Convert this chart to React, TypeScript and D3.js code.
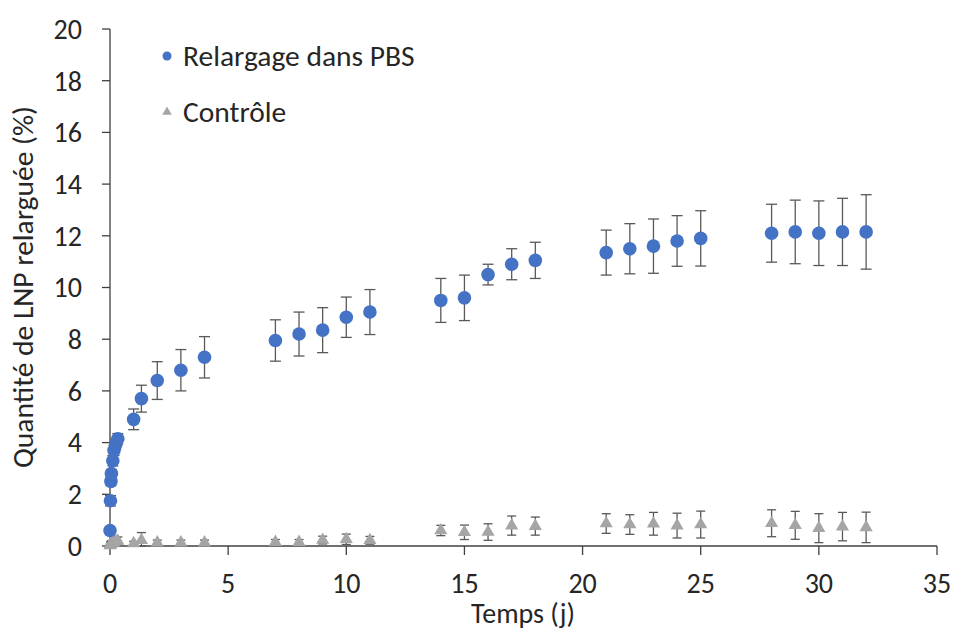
import * as d3 from 'd3';

// temps (j)
const pbsTimes = [0, 0.02, 0.04, 0.06, 0.12, 0.17, 0.25, 0.33, 1, 1.33, 2, 3, 4, 7, 8, 9, 10, 11, 14, 15, 16, 17, 18, 21, 22, 23, 24, 25, 28, 29, 30, 31, 32];
const pbsValues = [0.6, 1.75, 2.5, 2.8, 3.3, 3.7, 3.95, 4.15, 4.9, 5.7, 6.4, 6.8, 7.3, 7.95, 8.2, 8.35, 8.85, 9.05, 9.5, 9.6, 10.5, 10.9, 11.05, 11.35, 11.5, 11.6, 11.8, 11.9, 12.1, 12.15, 12.1, 12.15, 12.15];
const pbsErrors = [0.1, 0.2, 0.15, 0.15, 0.2, 0.2, 0.2, 0.2, 0.4, 0.52, 0.73, 0.8, 0.8, 0.8, 0.85, 0.87, 0.78, 0.87, 0.85, 0.88, 0.4, 0.6, 0.7, 0.87, 0.97, 1.05, 0.98, 1.07, 1.12, 1.23, 1.25, 1.3, 1.44];

const ctrlTimes = [0, 0.02, 0.04, 0.06, 0.12, 0.17, 0.25, 0.33, 1, 1.33, 2, 3, 4, 7, 8, 9, 10, 11, 14, 15, 16, 17, 18, 21, 22, 23, 24, 25, 28, 29, 30, 31, 32];
const ctrlValues = [0.02, 0.05, 0.08, 0.1, 0.12, 0.15, 0.18, 0.2, 0.1, 0.22, 0.13, 0.13, 0.13, 0.15, 0.15, 0.23, 0.26, 0.22, 0.6, 0.53, 0.54, 0.79, 0.77, 0.87, 0.83, 0.86, 0.79, 0.83, 0.88, 0.8, 0.69, 0.75, 0.72];
const ctrlErrors = [0.05, 0.1, 0.1, 0.1, 0.1, 0.12, 0.15, 0.15, 0.08, 0.3, 0.1, 0.1, 0.1, 0.1, 0.1, 0.15, 0.2, 0.15, 0.2, 0.28, 0.32, 0.37, 0.35, 0.38, 0.38, 0.44, 0.48, 0.52, 0.52, 0.54, 0.56, 0.55, 0.59];

const xTicks = [0, 5, 10, 15, 20, 25, 30, 35];
const yTicks = [0, 2, 4, 6, 8, 10, 12, 14, 16, 18, 20];

const W = 956;
const H = 633;
const font = "Calibri, Carlito, Lato, sans-serif";
const axisColor = '#404040';
const barColor = '#595959';
const textColor = '#262626';
const blue = '#4472C4';
const gray = '#A5A5A5';
const fs = 28;
const fsLegend = 29.5;

export default function App() {
  const x = d3.scaleLinear().domain([0, 35]).range([110, 937]);
  const y = d3.scaleLinear().domain([0, 20]).range([546, 29]);
  const tri = d3.symbol().type(d3.symbolTriangle).size(75)();
  const triLegend = d3.symbol().type(d3.symbolTriangle).size(40)();

  const errBar = (t: number, v: number, e: number, cap: number, key: string) => (
    <g key={key} stroke={barColor} strokeWidth={1.3}>
      <line x1={x(t)} x2={x(t)} y1={y(v + e)} y2={y(Math.max(0, v - e))} />
      <line x1={x(t) - cap} x2={x(t) + cap} y1={y(v + e)} y2={y(v + e)} />
      <line x1={x(t) - cap} x2={x(t) + cap} y1={y(Math.max(0, v - e))} y2={y(Math.max(0, v - e))} />
    </g>
  );

  return (
    <div style={{ position: 'fixed', left: 0, top: 0 }}>
      <svg width={W} height={H} style={{ display: 'block', background: '#fff' }} fontFamily={font}>
        {/* axes */}
        <line x1={x(0)} x2={x(0)} y1={y(0)} y2={y(20)} stroke={axisColor} strokeWidth={1.3} />
        <line x1={x(0)} x2={x(35)} y1={y(0)} y2={y(0)} stroke={axisColor} strokeWidth={1.3} />
        {yTicks.map(t => (
          <g key={'y' + t}>
            <line x1={x(0) - 8} x2={x(0)} y1={y(t)} y2={y(t)} stroke={axisColor} strokeWidth={1.3} />
            <text x={82} y={y(t)} dy="0.35em" textAnchor="end" fontSize={fs} fill={textColor}>{t}</text>
          </g>
        ))}
        {xTicks.map(t => (
          <g key={'x' + t}>
            <line x1={x(t)} x2={x(t)} y1={y(0)} y2={y(0) + 9} stroke={axisColor} strokeWidth={1.3} />
            <text x={x(t)} y={583} dy="0.35em" textAnchor="middle" fontSize={fs} fill={textColor}>{t}</text>
          </g>
        ))}
        <text x={523} y={613} dy="0.35em" textAnchor="middle" fontSize={fs} fill={textColor}>Temps (j)</text>
        <text transform={`translate(23,287) rotate(-90)`} dy="0.35em" textAnchor="middle" fontSize={fsLegend} fill={textColor}>Quantité de LNP relarguée (%)</text>

        {/* contrôle */}
        {ctrlTimes.map((t, i) => errBar(t, ctrlValues[i], ctrlErrors[i], 4.5, 'ce' + i))}
        {ctrlTimes.map((t, i) => (
          <path key={'ct' + i} d={tri} transform={`translate(${x(t)},${y(ctrlValues[i])})`} fill={gray} />
        ))}

        {/* relargage */}
        {pbsTimes.map((t, i) => errBar(t, pbsValues[i], pbsErrors[i], 5.5, 'pe' + i))}
        {pbsTimes.map((t, i) => (
          <circle key={'pc' + i} cx={x(t)} cy={y(pbsValues[i])} r={6.8} fill={blue} />
        ))}

        {/* legend */}
        <circle cx={167} cy={56} r={4.5} fill={blue} />
        <text x={183} y={56} dy="0.35em" fontSize={fsLegend} fill={textColor}>Relargage dans PBS</text>
        <path d={triLegend} transform="translate(167,112)" fill={gray} />
        <text x={183} y={112} dy="0.35em" fontSize={fsLegend} fill={textColor}>Contrôle</text>
      </svg>
    </div>
  );
}
